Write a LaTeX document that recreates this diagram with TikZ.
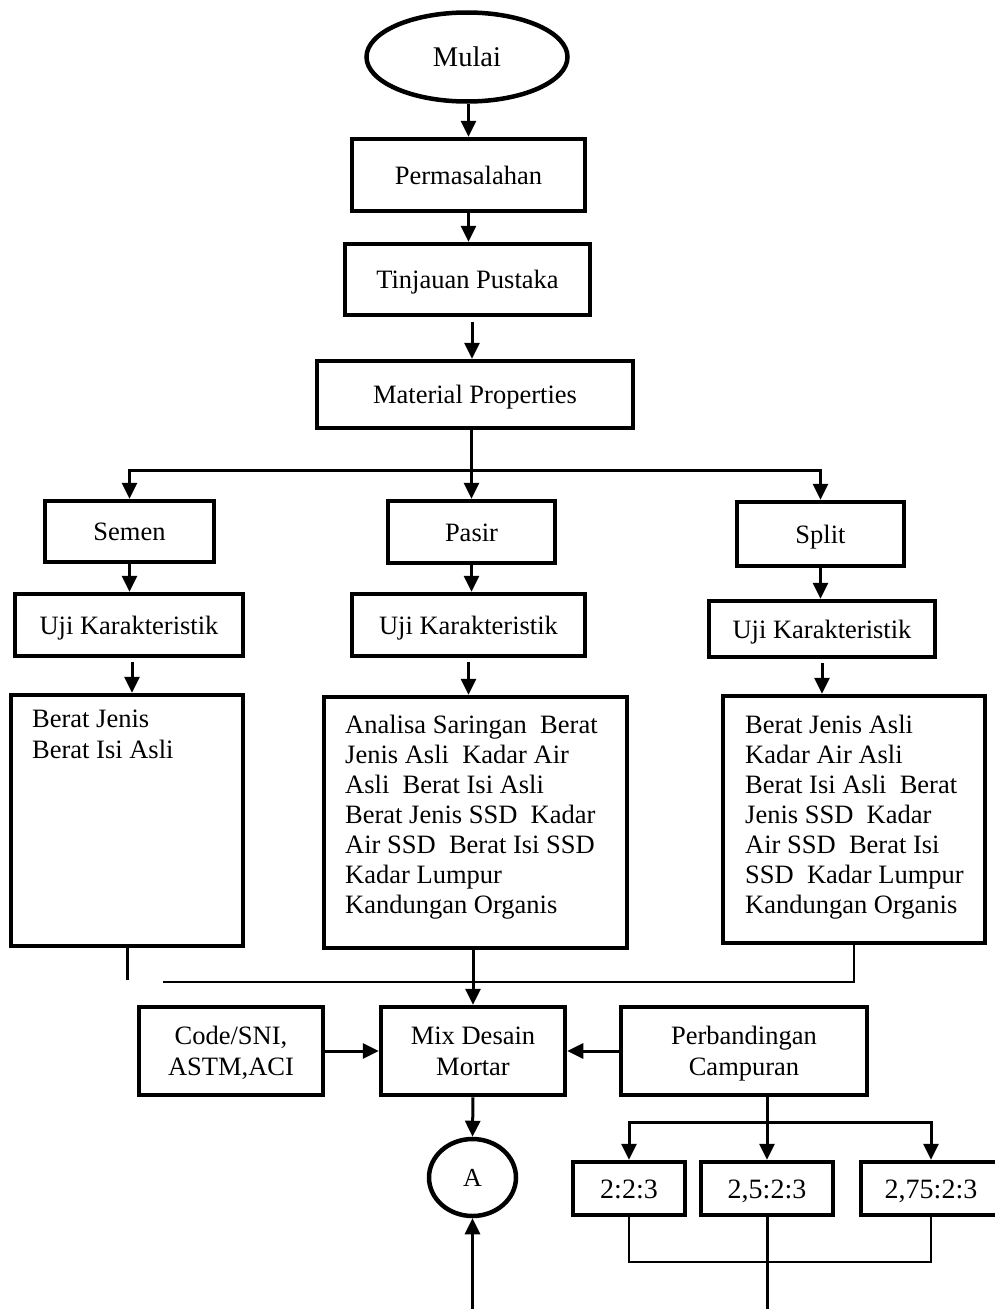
\documentclass[tikz,border=0pt]{standalone}
\usepackage{fontspec}
\setmainfont{Liberation Serif}
\usetikzlibrary{arrows.meta,shapes.geometric,calc}
% two-line box text with fixed baselines
\newcommand{\twolines}[2]{\rule{0pt}{23pt}#1\\#2\vphantom{p}}
\begin{document}
\begin{tikzpicture}[x=1pt,y=-1pt,
  box/.style={draw, line width=4.5pt, rectangle, inner sep=0pt, align=center,
              font=\fontsize{26.5}{31}\selectfont},
  oneline/.style={text height=18pt, text depth=0pt},
  ratio/.style={box, minimum height=53pt, text height=19pt, text depth=0pt,
                font=\fontsize{28}{30}\selectfont},
  oval/.style={draw, line width=4.5pt, ellipse, inner sep=0pt},
  conn/.style={line width=3pt, -{Triangle[length=16pt,width=15pt]}},
  plain/.style={line width=3pt},
  thinline/.style={line width=1.6pt},
  txt/.style={anchor=north west, inner sep=0pt, align=left,
              font=\fontsize{26.5}{30}\selectfont}]
\useasboundingbox (0,0) rectangle (995,1309);

% main column
\node[oval, minimum width=201pt, minimum height=89pt, text height=19pt, text depth=0pt,
      font=\fontsize{28.5}{30}\selectfont] (mulai) at (467,57) {Mulai};
\node[box, oneline, minimum width=233pt, minimum height=72pt] (perm) at (468.5,175) {Permasalahan};
\node[box, oneline, minimum width=245pt, minimum height=71pt] (tinj) at (467.5,279.5) {Tinjauan Pustaka};
\node[box, oneline, minimum width=316pt, minimum height=67pt] (mat) at (475,394.5) {Material Properties};

% materials
\node[box, oneline, minimum width=169pt, minimum height=61pt] (semen) at (129.5,531.5) {Semen};
\node[box, oneline, minimum width=167pt, minimum height=62pt] (pasir) at (471.5,532) {Pasir};
\node[box, oneline, minimum width=167pt, minimum height=64pt] (split) at (820.5,534) {Split};

\node[box, oneline, minimum width=228pt, minimum height=62pt] (ujiA) at (129,625) {Uji Karakteristik};
\node[box, oneline, minimum width=233pt, minimum height=62pt] (ujiB) at (468.5,625) {Uji Karakteristik};
\node[box, oneline, minimum width=226pt, minimum height=56pt] (ujiC) at (822,629) {Uji Karakteristik};

% test lists
\node[box, minimum width=232pt, minimum height=251pt] (detA) at (127,820.5) {};
\node[box, minimum width=303pt, minimum height=251pt] (detB) at (475.5,822.5) {};
\node[box, minimum width=262pt, minimum height=247pt] (detC) at (854,819.5) {};

\node[txt, font=\fontsize{26.5}{31}\selectfont] (tA) at (32,710) {Berat Jenis\\Berat Isi Asli};
\node[txt] (tB) at (345,715) {Analisa Saringan~~Berat\\Jenis Asli~~Kadar Air\\Asli~~Berat Isi Asli\\Berat Jenis SSD~~Kadar\\Air SSD~~Berat Isi SSD\\Kadar Lumpur\\Kandungan Organis};
\node[txt] (tC) at (745,715) {Berat Jenis Asli\\Kadar Air Asli\\Berat Isi Asli~~Berat\\Jenis SSD~~Kadar\\Air SSD~~Berat Isi\\SSD~~Kadar Lumpur\\Kandungan Organis};

% mix design row
\node[box, minimum width=184pt, minimum height=88pt] (code) at (231,1051) {\twolines{Code/SNI,}{ASTM,ACI}};
\node[box, minimum width=184pt, minimum height=88pt] (mix) at (473,1051) {\twolines{Mix Desain}{Mortar}};
\node[box, minimum width=246pt, minimum height=88pt] (perb) at (744,1051) {\twolines{Perbandingan}{Campuran}};

\node[oval, minimum width=87pt, minimum height=77pt, text height=18pt, text depth=0pt,
      font=\fontsize{26}{30}\selectfont] (A) at (472.5,1177.5) {A};

\node[ratio, minimum width=112pt] (r1) at (629,1188.5) {2:2:3};
\node[ratio, minimum width=132pt] (r2) at (767,1188.5) {2,5:2:3};
\node[ratio, minimum width=140pt] (r3) at (931,1188.5) {2,75:2:3};

% connectors, main column
\draw[conn] (mulai.south -| perm.north) -- (perm.north);
\draw[conn] (perm.south) -- (perm.south |- tinj.north);
\draw[conn, shorten <=5pt] ([xshift=-3pt]mat.north |- tinj.south) -- ([xshift=-3pt]mat.north);

% fork to the three materials
\draw[conn] (mat.south -| pasir.north) -- (pasir.north);
\coordinate (fork) at (pasir.north |- 0,470);
\draw[conn] (fork) -| (semen.north);
\draw[conn] (fork) -| (split.north);

\draw[conn] (semen.south) -- (semen.south |- ujiA.north);
\draw[conn] (pasir.south) -- (pasir.south |- ujiB.north);
\draw[conn] (split.south) -- (split.south |- ujiC.north);

\draw[conn, shorten <=4pt] ([xshift=3pt]ujiA.south) -- ([xshift=3pt]ujiA.south |- detA.north);
\draw[conn, shorten <=4pt] (ujiB.south) -- (ujiB.south |- detB.north);
\draw[conn, shorten <=4pt] (ujiC.south) -- (ujiC.south |- detC.north);

% joining the test lists
\draw[plain] (detA.south) -- ++(0,32);
\coordinate (joinL) at (163,982);
\draw[thinline] (joinL) -| (detC.south);
\draw[conn] (detB.south -| mix.north) -- (mix.north);

% mix design
\draw[conn] (code.east) -- (mix.west);
\draw[conn] (perb.west) -- (mix.east);
\draw[conn] (mix.south) -- (A.north);
\coordinate (Ain) at (A.south |- 0,1309);
\draw[conn] (Ain) -- (A.south);

% mix ratios
\coordinate (pfork) at (r2.north |- 0,1122);
\draw[conn] (perb.south -| r2.north) -- (r2.north);
\draw[conn] (pfork) -| (r1.north);
\draw[conn] (pfork) -| (r3.north);
\coordinate (rjoin) at (r3.south |- 0,1262);
\draw[thinline] (r1.south) |- (rjoin) -- (r3.south);
\coordinate (rout) at (r2.south |- 0,1309);
\draw[plain] (r2.south) -- (rout);
\end{tikzpicture}
\end{document}
